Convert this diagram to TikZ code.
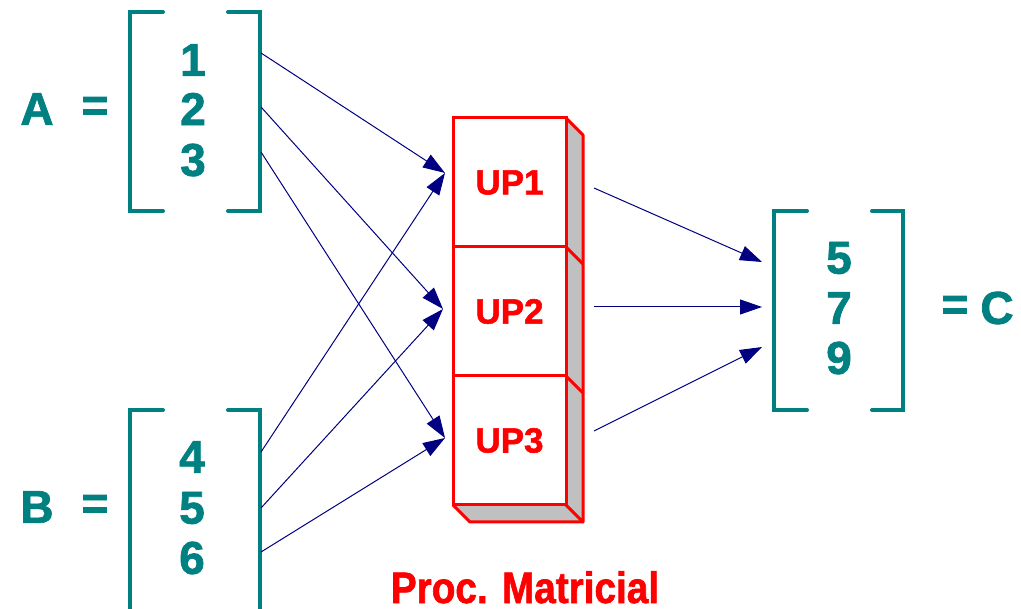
\documentclass[tikz,border=0pt]{standalone}
\usepackage{fontspec}
\setmainfont{Liberation Sans}[BoldFeatures={FakeBold=1.6}]
\usetikzlibrary{arrows.meta}
\definecolor{tealc}{HTML}{008080}
\definecolor{navyc}{HTML}{000080}
\definecolor{redc}{HTML}{FF0000}
\definecolor{grayc}{HTML}{C0C0C0}
\tikzset{
  brk/.style={draw=tealc, line width=4, line cap=round, line join=miter},
  num/.style={text=tealc, font=\fontsize{46}{46}\selectfont\bfseries, inner sep=0},
  upbox/.style={draw=redc, line width=3, fill=white, minimum width=113, minimum height=129, inner sep=0, text=redc, font=\fontsize{35}{35}\selectfont\bfseries},
  conn/.style={draw=navyc, line width=1, -{Triangle[length=22,width=15]}},
  redline/.style={draw=redc, line width=3, line join=round},
}
\begin{document}
\begin{tikzpicture}[x=1pt,y=-1pt]
\useasboundingbox (0,0) rectangle (1021,609);
\clip (0,0) rectangle (1021,609);
% Matrix A
\draw[brk] (163,12) -- (130,12) -- (130,211) -- (163,211);
\draw[brk] (228,12) -- (260,12) -- (260,211) -- (228,211);
\node[num] (a1) at (193,60) {1};
\node[num] (a2) at (193,109) {2};
\node[num] (a3) at (193,160) {3};
\node[num] (la) at (37,109) {A};
\node[num] (eqa) at (95,109) {=};
% Matrix B
\draw[brk] (163,410) -- (130,410) -- (130,640) -- (163,640);
\draw[brk] (228,410) -- (260,410) -- (260,640) -- (228,640);
\node[num] (b1) at (192,457) {4};
\node[num] (b2) at (192,508) {5};
\node[num] (b3) at (192,558) {6};
\node[num] (lb) at (37,507) {B};
\node[num] (eqb) at (95,507) {=};
% Matrix C
\draw[brk] (807,211) -- (774,211) -- (774,410) -- (807,410);
\draw[brk] (872,211) -- (903,211) -- (903,410) -- (872,410);
\node[num] (c1) at (839,258) {5};
\node[num] (c2) at (839,308) {7};
\node[num] (c3) at (839,358) {9};
\node[num] (eqc) at (955,308) {=};
\node[num] (lc) at (997,308) {C};
% Processor stack
\fill[grayc] (566,118) -- (583,135) -- (583,522) -- (566,505) -- cycle;
\fill[grayc] (453,505) -- (566,505) -- (583,522) -- (470,522) -- cycle;
\draw[redline] (566,118) -- (583,135) -- (583,522) -- (566,505);
\draw[redline] (453,505) -- (470,522) -- (583,522);
\draw[redline] (566,247) -- (583,264);
\draw[redline] (566,376) -- (583,393);
\node[upbox] (up1) at (509.5,182.5) {UP1};
\node[upbox] (up2) at (509.5,311.5) {UP2};
\node[upbox] (up3) at (509.5,440.5) {UP3};
\node[text=redc, font=\fontsize{44}{44}\selectfont\bfseries, inner sep=0, text depth=0pt, anchor=base] (proc) at (525,603) {\scalebox{0.88}[1]{Proc. Matricial}};
% Connector end points
\coordinate (sa1) at (261,53);
\coordinate (sa2) at (261,107);
\coordinate (sa3) at (261,152);
\coordinate (sb1) at (261,452);
\coordinate (sb2) at (261,508);
\coordinate (sb3) at (261,552);
\coordinate (in1) at (445,173);
\coordinate (in2) at (443,309);
\coordinate (in3) at (445,438);
\coordinate (o1) at (594,188);
\coordinate (o2) at (594,307);
\coordinate (o3) at (594,431);
\coordinate (t1) at (762,262);
\coordinate (t2) at (762,307);
\coordinate (t3) at (762,347);
\draw[conn] (sa1) -- (in1);
\draw[conn] (sb1) -- (in1);
\draw[conn] (sa2) -- (in2);
\draw[conn] (sb2) -- (in2);
\draw[conn] (sa3) -- (in3);
\draw[conn] (sb3) -- (in3);
\draw[conn] (o1) -- (t1);
\draw[conn] (o2) -- (t2);
\draw[conn] (o3) -- (t3);
\end{tikzpicture}
\end{document}
